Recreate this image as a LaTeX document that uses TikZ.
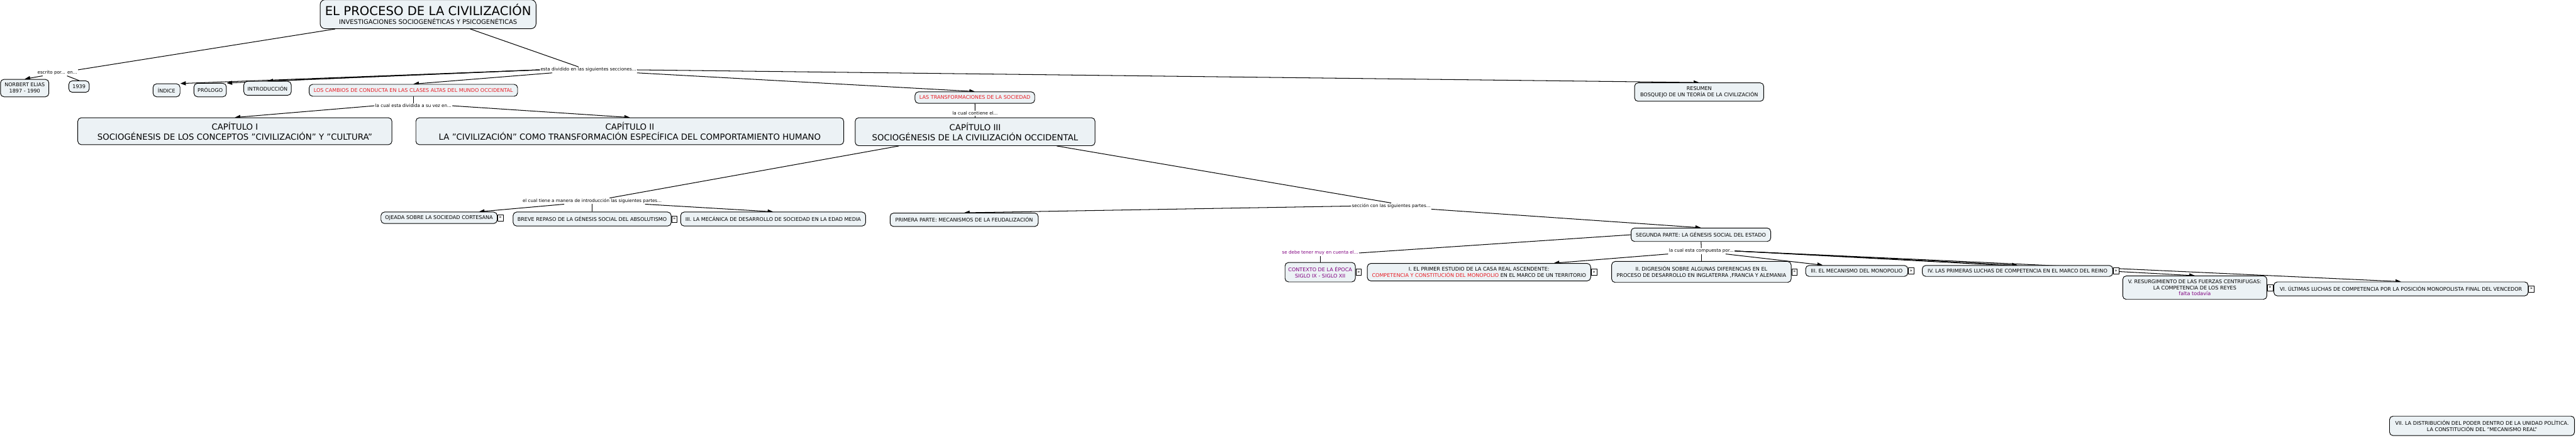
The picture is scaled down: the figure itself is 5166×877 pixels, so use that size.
\documentclass[tikz,border=0pt]{standalone}
\usepackage{fontspec}
\setmainfont{DejaVu Sans}
\usepackage{xcolor}
\usetikzlibrary{arrows.meta,positioning}
\definecolor{cmapFill}{RGB}{236,242,245}
\definecolor{cmapRed}{RGB}{232,28,36}
\definecolor{cmapPurple}{RGB}{128,0,128}
\pgfdeclarelayer{bg}
\pgfsetlayers{bg,main}

\begin{document}
\begin{tikzpicture}[x=1pt,y=-1pt,
  cmapnode/.style={draw, line width=1.2pt, rounded corners=7pt, fill=cmapFill, align=center, inner sep=1pt, font=\fontsize{10.2}{12.4}\selectfont},
  bignode/.style={cmapnode, font=\fontsize{16.8}{21}\selectfont},
  linkphrase/.style={inner sep=1.5pt, font=\fontsize{9}{11}\selectfont},
  expander/.style={draw, fill=white, line width=0.8pt, minimum width=11pt, minimum height=12pt, inner sep=0pt, font=\fontsize{9}{9}\selectfont},
  relation/.style={line width=1.3pt},
  relarrow/.style={relation, -{Triangle[length=11pt,width=8pt]}},
]
\begin{pgfonlayer}{bg}
\fill[white] (0,0) rectangle (5166,877);
\end{pgfonlayer}
\useasboundingbox (0,0) rectangle (5166,877);

\node[cmapnode, rounded corners=10pt, minimum width=433, minimum height=58, font=\fontsize{12.6}{18}\selectfont] (title) at (858.5,28.5)
  {{\fontsize{24.8}{27}\selectfont EL PROCESO DE LA CIVILIZACIÓN}\\INVESTIGACIONES SOCIOGENÉTICAS Y PSICOGENÉTICAS};
\node[cmapnode, minimum width=97, minimum height=35] (elias) at (49.5,176.5) {NORBERT ELIAS\\1897 - 1990};
\node[cmapnode, minimum width=41, minimum height=23] (year) at (158.5,173.5) {1939};
\node[cmapnode, minimum width=54, minimum height=26] (indice) at (334,181) {ÍNDICE};
\node[cmapnode, minimum width=65, minimum height=27] (prologo) at (421.5,180.5) {PRÓLOGO};
\node[cmapnode, minimum width=95, minimum height=28] (intro) at (536.5,177) {INTRODUCCIÓN};
\node[cmapnode, text=cmapRed, minimum width=418, minimum height=24] (cambios) at (829,181) {LOS CAMBIOS DE CONDUCTA EN LAS CLASES ALTAS DEL MUNDO OCCIDENTAL};
\node[cmapnode, text=cmapRed, minimum width=240, minimum height=23] (transf) at (1955,195.5) {LAS TRANSFORMACIONES DE LA SOCIEDAD};
\node[cmapnode, minimum width=259, minimum height=37] (resumen) at (3407.5,184.5) {RESUMEN\\BOSQUEJO DE UN TEORÍA DE LA CIVILIZACIÓN};

\node[bignode, minimum width=630, minimum height=54] (capI) at (471,263) {CAPÍTULO I\\SOCIOGÉNESIS DE LOS CONCEPTOS "CIVILIZACIÓN" Y "CULTURA"};
\node[bignode, minimum width=858, minimum height=54] (capII) at (1263,263) {CAPÍTULO II\\LA "CIVILIZACIÓN" COMO TRANSFORMACIÓN ESPECÍFICA DEL COMPORTAMIENTO HUMANO};
\node[bignode, minimum width=481, minimum height=56] (capIII) at (1955.5,264) {CAPÍTULO III\\SOCIOGÉNESIS DE LA CIVILIZACIÓN OCCIDENTAL};

\node[cmapnode, minimum width=233, minimum height=23] (ojeada) at (880.5,436.5) {OJEADA SOBRE LA SOCIEDAD CORTESANA};
\node[cmapnode, minimum width=317, minimum height=28] (breve) at (1187.5,439) {BREVE REPASO DE LA GÉNESIS SOCIAL DEL ABSOLUTISMO};
\node[cmapnode, minimum width=371, minimum height=28] (mecanica) at (1550.5,439) {III. LA MECÁNICA DE DESARROLLO DE SOCIEDAD EN LA EDAD MEDIA};
\node[cmapnode, minimum width=297, minimum height=27] (primera) at (1933.5,440.5) {PRIMERA PARTE: MECANISMOS DE LA FEUDALIZACIÓN};
\node[cmapnode, minimum width=280, minimum height=27] (segunda) at (3411,470.5) {SEGUNDA PARTE: LA GÉNESIS SOCIAL DEL ESTADO};

\node[cmapnode, text=cmapPurple, minimum width=141, minimum height=39] (contexto) at (2647.5,545.5) {CONTEXTO DE LA ÉPOCA\\SIGLO IX - SIGLO XII};
\node[cmapnode, minimum width=448, minimum height=35] (primer) at (2966,545.5) {I. EL PRIMER ESTUDIO DE LA CASA REAL ASCENDENTE:\\\textcolor{cmapRed}{COMPETENCIA Y CONSTITUCIÓN DEL MONOPOLIO} EN EL MARCO DE UN TERRITORIO};
\node[cmapnode, minimum width=360, minimum height=42] (digresion) at (3412,545) {II. DIGRESIÓN SOBRE ALGUNAS DIFERENCIAS EN EL\\PROCESO DE DESARROLLO EN INGLATERRA ,FRANCIA Y ALEMANIA};
\node[cmapnode, minimum width=205, minimum height=22] (mecanismo) at (3723.5,543) {III. EL MECANISMO DEL MONOPOLIO};
\node[cmapnode, minimum width=382, minimum height=22] (luchas) at (4046,543) {IV. LAS PRIMERAS LUCHAS DE COMPETENCIA EN EL MARCO DEL REINO};
\node[cmapnode, minimum width=289, minimum height=47] (resurgimiento) at (4401.5,576.5) {V. RESURGIMIENTO DE LAS FUERZAS CENTRIFUGAS:\\LA COMPETENCIA DE LOS REYES\\\textcolor{cmapPurple}{falta todavía}};
\node[cmapnode, minimum width=510, minimum height=28] (ultimas) at (4815,579) {VI. ÚLTIMAS LUCHAS DE COMPETENCIA POR LA POSICIÓN MONOPOLISTA FINAL DEL VENCEDOR};
\node[cmapnode, minimum width=371, minimum height=39] (distribucion) at (4977.5,853.5) {VII. LA DISTRIBUCIÓN DEL PODER DENTRO DE LA UNIDAD POLÍTICA.\\LA CONSTITUCIÓN DEL "MECANISMO REAL"};

\foreach \n in {ojeada,breve,contexto,primer,digresion,mecanismo,luchas,resurgimiento,ultimas}
  \node[expander, right=0pt of \n] (\n-x) {»};

\node[linkphrase] (written) at (115,146) {escrito por... en...};
\node[linkphrase] (sections) at (1180,140) {esta dividido en las siguientes secciones...};
\node[linkphrase] (dividedI) at (829,212) {la cual esta dividida a su vez en...};
\node[linkphrase] (contains) at (1955.5,227) {la cual contiene el...};
\node[linkphrase] (introParts) at (1187.5,403) {el cual tiene a manera de introducción las siguientes partes...};
\node[linkphrase] (parts) at (2790,413) {sección con las siguientes partes...};
\node[linkphrase, text=cmapPurple] (context) at (2647.5,507) {se debe tener muy en cuenta el...};
\node[linkphrase] (composed) at (3412,503) {la cual esta compuesta por...};

\begin{pgfonlayer}{bg}
\draw[relation] (title) -- (written.north east);
\draw[relarrow] ([xshift=12]written.south west) -- (elias.north);
\draw[relation] ([xshift=-22]written.south east) -- (year.north);
\draw[relation] (title) -- ([xshift=-20]sections.north);
\draw[relarrow] (sections.west) -- (indice.north east);
\draw[relarrow] (sections.west) -- (prologo.north east);
\draw[relarrow] (sections.west) -- (intro.north);
\draw[relarrow] ([xshift=25]sections.south west) -- (cambios.north);
\draw[relarrow] (sections.south east) -- (transf.north);
\draw[relarrow] (sections.east) -- (resumen.north);
\draw[relation] (cambios) -- (dividedI);
\draw[relarrow] (dividedI.west) -- (capI.north);
\draw[relarrow] (dividedI.east) -- (capII.north);
\draw[relation] (transf) -- (contains);
\draw[relation] (contains) -- (capIII);
\draw[relation] ([xshift=-153]capIII.south) -- ([xshift=35]introParts.north);
\draw[relarrow] ([xshift=-56]introParts.south) -- ([xshift=80]ojeada.north);
\draw[relation] (introParts) -- (breve);
\draw[relarrow] ([xshift=106]introParts.south) -- (mecanica.north);
\draw[relation] ([xshift=164]capIII.south) -- (parts.north);
\draw[relarrow] (parts.west) -- (primera.north);
\draw[relarrow] (parts.south east) -- (segunda.north);
\draw[relation] (segunda.west) -- (context.east);
\draw[relation] (context) -- (contexto);
\draw[relation] (segunda) -- (composed);
\draw[relation] (composed) -- (digresion);
\draw[relarrow] (composed.south west) -- ([xshift=150]primer.north);
\draw[relarrow] ([xshift=-18]composed.south east) -- ([xshift=-68]mecanismo.north);
\draw[relarrow] (composed.east) -- (luchas.north);
\draw[relarrow] (composed.east) -- (resurgimiento.north);
\draw[relarrow] (composed.east) -- (ultimas.north);
\end{pgfonlayer}
\end{tikzpicture}
\end{document}
